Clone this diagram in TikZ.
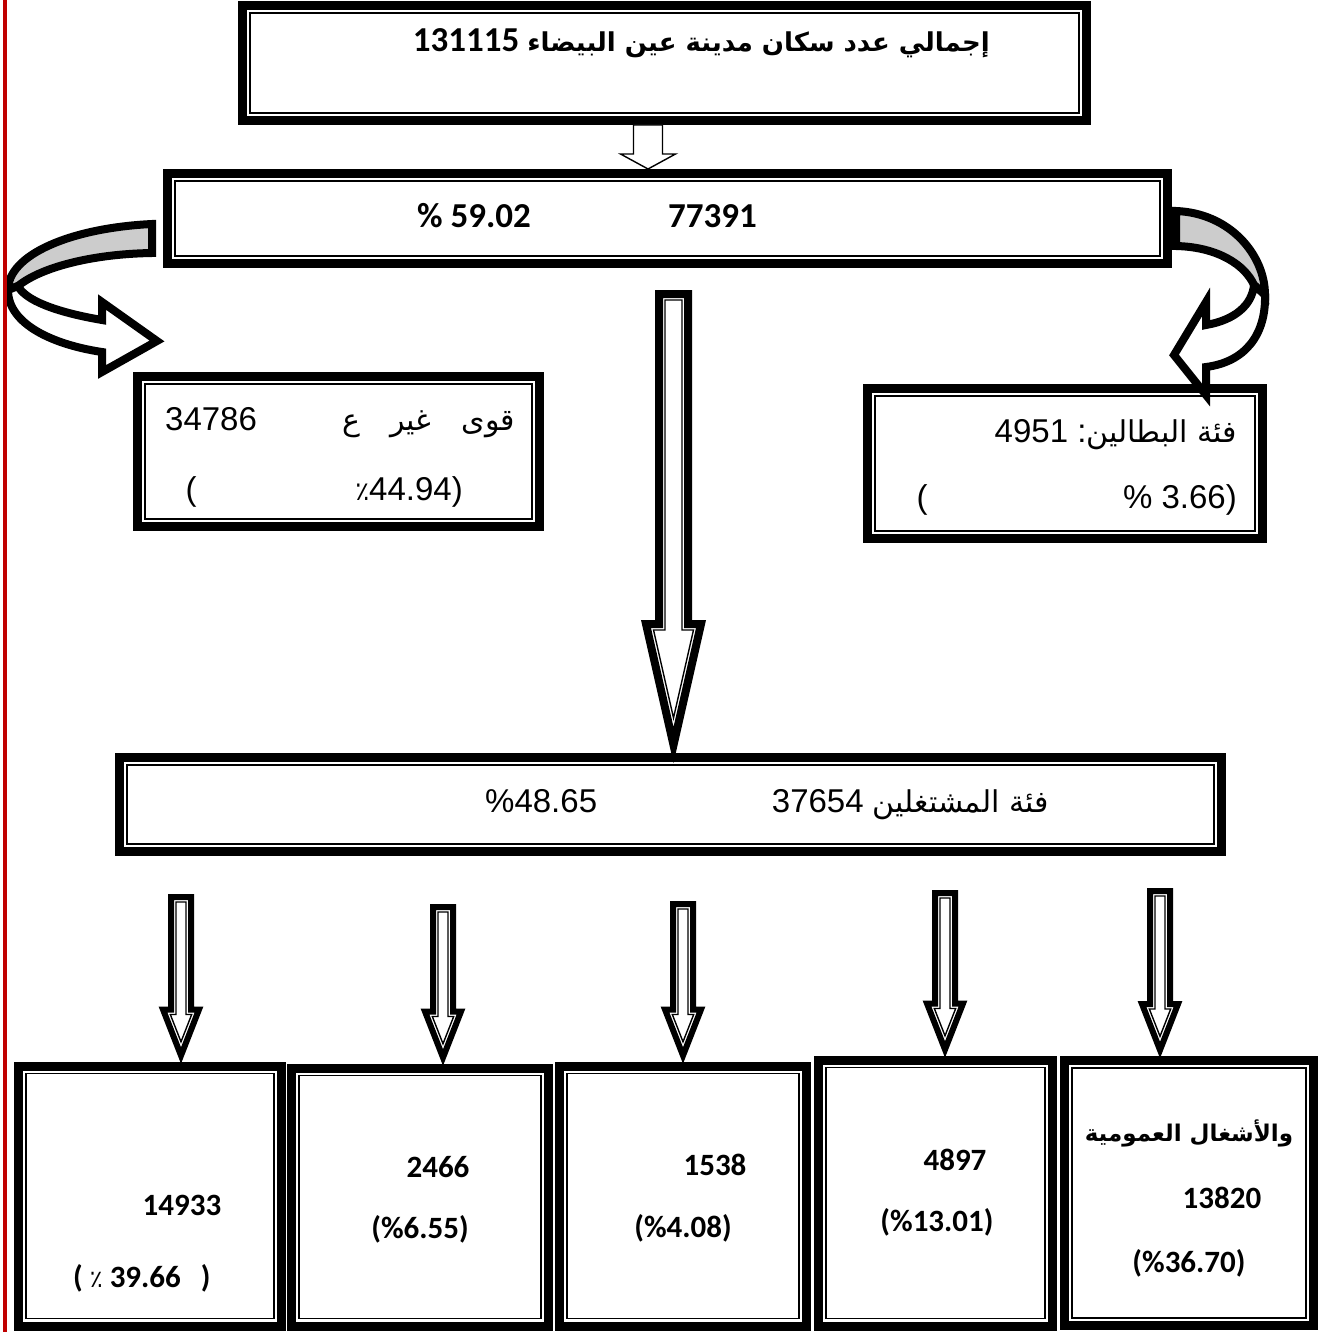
\documentclass[tikz,border=0pt]{standalone}
\usepackage{fontspec}
\setmainfont{Liberation Sans}
\newfontfamily\calib{Carlito}
\newfontfamily\arabicfont[Script=Arabic]{DejaVu Sans}
\TeXXeTstate=1
\usetikzlibrary{calc}

\definecolor{margin}{RGB}{192,0,0}

\tikzset{
  frame/.style={draw,line width=9pt,fill=white,inner sep=0pt},
  inframe/.style={draw,line width=1.6pt},
  outarrow/.style={draw,fill=white,line width=#1,miter limit=20},
  inarrow/.style={draw,line width=1.4pt},
  thinarrow/.style={draw,fill=white,line width=1.4pt},
  curl/.style={draw,line width=8pt,miter limit=6},
  txt/.style={inner sep=0pt,font=\fontsize{33}{40}\selectfont},
  btxt/.style={inner sep=0pt,font=\calib\bfseries\fontsize{31}{38}\selectfont},
  bigtxt/.style={inner sep=0pt,font=\calib\bfseries\fontsize{35}{42}\selectfont},
}

% block arrow pointing down: start, tip, shaft half, head half, head length, style
\newcommand\blockarr[6]{%
  \path[#6] let \p1=(#1), \p2=(#2) in
    ({\x1-#3*1pt},\y1) -- ({\x1+#3*1pt},\y1) -- ({\x1+#3*1pt},{\y2+#5*1pt})
    -- ({\x1+#4*1pt},{\y2+#5*1pt}) -- (\x1,\y2) -- ({\x1-#4*1pt},{\y2+#5*1pt})
    -- ({\x1-#3*1pt},{\y2+#5*1pt}) -- cycle;}

% the same with a thin inner line: ..., stroke, inset
\newcommand\dblarr[7]{%
  \blockarr{#1}{#2}{#3}{#4}{#5}{outarrow=#6}
  \pgfmathsetmacro\arrHyp{sqrt((#4)^2+(#5)^2)}
  \pgfmathsetmacro\arrIH{#4-#4*#7/#5-#7*\arrHyp/#5}
  \pgfmathsetmacro\arrIT{#7*\arrHyp/#4}
  \pgfmathsetmacro\arrIS{#3-#7}
  \pgfmathsetmacro\arrIL{#5-#7-\arrIT}
  \blockarr{[yshift=-#7pt]#1}{[yshift=\arrIT pt]#2}{\arrIS}{\arrIH}{\arrIL}{inarrow}}

\begin{document}
\begin{tikzpicture}[x=1pt,y=-1pt]
\useasboundingbox (0,0) rectangle (1320,1332);

% boxes
\node[frame,minimum width=844,minimum height=115] (top) at (664.5,63) {};
\node[frame,minimum width=1000,minimum height=90] (act) at (667.5,218.5) {};
\node[frame,minimum width=402,minimum height=150] (inact) at (338.5,451.5) {};
\node[frame,minimum width=395,minimum height=150] (unemp) at (1065,463.5) {};
\node[frame,minimum width=1102,minimum height=94] (emp) at (670.5,804.5) {};
\foreach \cx/\cy/\w/\h [count=\k] in {150/1196/263/260, 420/1197/257/258, 683/1196/247/260, 935.5/1193/234/266, 1189/1193/249/265}
  \node[frame,minimum width=\w,minimum height=\h] (b\k) at (\cx,\cy) {};
\foreach \bx in {top,act,inact,unemp,emp,b1,b2,b3,b4,b5}
  \draw[inframe] ([shift={(12,12)}]\bx.north west) rectangle ([shift={(-12,-12)}]\bx.south east);

% texts
\node[bigtxt,anchor=base east] (ttl) at (990,52) {131115 {\arabicfont\bfseries\fontsize{26}{32}\selectfont\beginR إجمالي عدد سكان مدينة عين البيضاء\endR}};
\node[bigtxt,anchor=base west] (vnum) at (668,228) {77391};
\node[bigtxt,anchor=base west] (vpct) at (417,228) {\% 59.02};

\node[txt,anchor=base west] (inum) at (165,430) {34786};
\node[txt,anchor=base east] (iword) at (515,430) {\arabicfont\fontsize{30}{36}\selectfont\beginR قوى\hspace{30pt}غير\hspace{30pt}ع\endR};
\node[txt,anchor=base] (iopen) at (191,500) {(};
\node[txt,anchor=base east] (ipct) at (463,500) {{\arabicfont\fontsize{26}{30}\selectfont ٪}44.94)};

\node[txt,anchor=base east] (unum) at (1237,442) {4951 :{\arabicfont\fontsize{30}{36}\selectfont\beginR فئة البطالين\endR}};
\node[txt,anchor=base] (uopen) at (922,508) {(};
\node[txt,anchor=base east] (upct) at (1237,508) {\% 3.66)};

\node[txt,anchor=base east] (enum) at (1049,812) {37654 {\arabicfont\fontsize{30}{36}\selectfont\beginR فئة المشتغلين\endR}};
\node[txt,anchor=base west] (epct) at (485,812) {\%48.65};

\node[btxt,anchor=base] (n1) at (182,1215) {14933};
\node[btxt,anchor=base west] (p1) at (73,1287) {(\ {\arabicfont\mdseries\fontsize{24}{28}\selectfont ٪}\ 39.66\hspace{20pt})};
\node[btxt,anchor=base] (n2) at (438,1177) {2466};
\node[btxt,anchor=base] (p2) at (420,1238) {(\%6.55)};
\node[btxt,anchor=base] (n3) at (715,1175) {1538};
\node[btxt,anchor=base] (p3) at (683,1237) {(\%4.08)};
\node[btxt,anchor=base] (n4) at (955,1170) {4897};
\node[btxt,anchor=base] (p4) at (937,1231) {(\%13.01)};
\node[btxt,anchor=base] (w5) at (1189,1141) {\arabicfont\bfseries\fontsize{23}{28}\selectfont\beginR والأشغال العمومية\endR};
\node[btxt,anchor=base] (n5) at (1222,1208) {13820};
\node[btxt,anchor=base] (p5) at (1189,1272) {(\%36.70)};

% straight arrows
\coordinate (m0) at (648,125);
\coordinate (t0) at (m0 |- act.north);
\blockarr{m0}{t0}{14.5}{27.5}{15}{thinarrow}
\coordinate (m1) at (673.5,294);
\path (m1 |- emp.north) ++(0,-8) coordinate (t1);
\dblarr{m1}{t1}{14.5}{27.5}{121}{8pt}{6}
\foreach \x/\y [count=\k] in {181/897, 443/907, 683/904, 945/893, 1160/891} {
  \coordinate (a\k) at (\x,\y);
  \path (a\k |- b\k.north) ++(0,-6) coordinate (h\k);
  \dblarr{a\k}{h\k}{10}{18}{46}{6pt}{5}
}

% curved arrows
\begin{scope}[shift={(act.east)}]
  \filldraw[curl,fill=gray!40] (4,-7.5) .. controls (58,-5.5) and (93,36.5) .. (93,76.5) -- (82,66.5) .. controls (73,46.5) and (46,28.5) .. (4,27.5) -- cycle;
  \filldraw[curl,fill=white] (93,76.5) .. controls (94,116.5) and (73,143.5) .. (34,148.5) -- (34,176.5) -- (2,136.5) -- (34,83.5) -- (34,106.5) .. controls (63,101.5) and (80,86.5) .. (82,66.5) -- cycle;
\end{scope}
\begin{scope}[shift={(act.west)}]
  \filldraw[curl,fill=gray!40] (-11,5.5) .. controls (-93,9.5) and (-155,36.5) .. (-155,71.5) -- (-145,67.5) .. controls (-123,49.5) and (-73,35.5) .. (-11,34.5) -- cycle;
  \filldraw[curl,fill=white] (-155,71.5) .. controls (-155,106.5) and (-108,126.5) .. (-61,133.5) -- (-61,153.5) -- (-6,122.5) -- (-61,83.5) -- (-61,101.5) .. controls (-108,93.5) and (-138,81.5) .. (-145,67.5) -- cycle;
\end{scope}

\draw[margin,line width=4pt] (5,0) -- (5,1332);
\end{tikzpicture}
\end{document}
